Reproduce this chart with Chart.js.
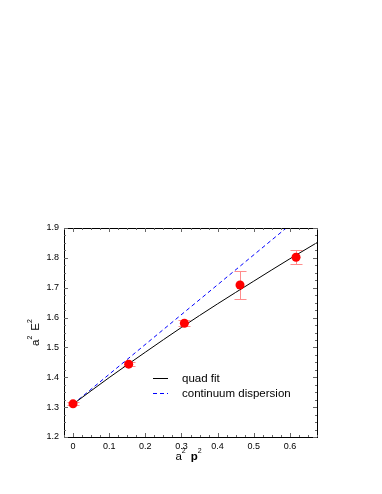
<!DOCTYPE html>
<html>
<head>
<meta charset="utf-8">
<script src="https://cdn.jsdelivr.net/npm/chart.js@4"></script>
<style>
  body { margin: 0; background: #fff; }
  #myChart { display: block; }
</style>
</head>
<body>
<canvas id="myChart" width="382" height="494"></canvas>
<script>
// measured points: a^2 p^2 vs a^2 E^2
const momenta = [0, 0.154, 0.308, 0.462, 0.617];
const energies = [1.311, 1.444, 1.581, 1.709, 1.802];
const errors = [0.005, 0.006, 0.010, 0.046, 0.024];

// quad fit curve
const fitX = [0, 0.1, 0.2, 0.3, 0.4, 0.5, 0.6, 0.675];
const fitY = [1.310, 1.399, 1.484, 1.567, 1.646, 1.722, 1.797, 1.851];

// continuum dispersion line
const contX = [0, 0.59];
const contY = [1.31, 1.90];

const xTicks = [0, 0.1, 0.2, 0.3, 0.4, 0.5, 0.6];
const yTicks = [1.2, 1.3, 1.4, 1.5, 1.6, 1.7, 1.8, 1.9];

const FONT = "'Liberation Sans', Arial, Helvetica, sans-serif";
const FIT_COLOR = '#000000';
const CONT_COLOR = '#0000ff';

function pairs(xs, ys) {
  return xs.map((x, i) => ({ x: x, y: ys[i] }));
}

// error bars under the points
const errorBars = {
  id: 'errorBars',
  beforeDatasetsDraw(chart) {
    const ctx = chart.ctx;
    const xs = chart.scales.x, ys = chart.scales.y;
    ctx.save();
    ctx.strokeStyle = '#ff8c8c';
    ctx.lineWidth = 1;
    for (let i = 0; i < momenta.length; i++) {
      const px = Math.round(xs.getPixelForValue(momenta[i])) + 0.5;
      const top = Math.round(ys.getPixelForValue(energies[i] + errors[i])) + 0.5;
      const bot = Math.round(ys.getPixelForValue(energies[i] - errors[i])) + 0.5;
      ctx.beginPath();
      ctx.moveTo(px, top); ctx.lineTo(px, bot);
      ctx.moveTo(px - 6, top); ctx.lineTo(px + 6, top);
      ctx.moveTo(px - 6, bot); ctx.lineTo(px + 6, bot);
      ctx.stroke();
    }
    ctx.restore();
  }
};

// box, inward ticks, axis titles and legend
const frame = {
  id: 'frame',
  afterDraw(chart) {
    const ctx = chart.ctx;
    const a = chart.chartArea;
    const xs = chart.scales.x, ys = chart.scales.y;
    ctx.save();
    ctx.strokeStyle = '#000';
    ctx.lineWidth = 1;
    ctx.strokeRect(Math.round(a.left) + 0.5, Math.round(a.top) + 0.5,
      Math.round(a.right - a.left), Math.round(a.bottom - a.top));

    ctx.strokeStyle = '#666';
    ctx.beginPath();
    for (let k = -1; k <= 27; k++) {
      const v = k * 0.025;
      if (v < xs.min - 1e-9 || v > xs.max + 1e-9) continue;
      const px = Math.round(xs.getPixelForValue(v)) + 0.5;
      const len = (k % 4 === 0) ? 4 : 2;
      ctx.moveTo(px, a.bottom); ctx.lineTo(px, a.bottom - len);
      ctx.moveTo(px, a.top); ctx.lineTo(px, a.top + len);
    }
    for (let k = 0; k <= 28; k++) {
      const v = 1.2 + k * 0.025;
      const py = Math.round(ys.getPixelForValue(v)) + 0.5;
      const len = (k % 4 === 0) ? 4 : 2;
      ctx.moveTo(a.left, py); ctx.lineTo(a.left + len, py);
      ctx.moveTo(a.right, py); ctx.lineTo(a.right - len, py);
    }
    ctx.stroke();

    // x title: a^2 p^2
    ctx.fillStyle = '#000';
    ctx.textBaseline = 'alphabetic';
    const cx = (a.left + a.right) / 2 - 2;
    const by = a.bottom + 23;
    const big = '11.5px ' + FONT, bold = 'bold 11.5px ' + FONT, sup = '7px ' + FONT;
    ctx.font = big; const wa = ctx.measureText('a').width;
    ctx.font = sup; const w2 = ctx.measureText('2').width;
    ctx.font = bold; const wp = ctx.measureText('p').width;
    const gap = 5;
    let x0 = cx - (wa + w2 + gap + wp + w2) / 2;
    ctx.font = big; ctx.fillText('a', x0, by); x0 += wa;
    ctx.font = sup; ctx.fillText('2', x0, by - 7); x0 += w2 + gap;
    ctx.font = bold; ctx.fillText('p', x0, by); x0 += wp;
    ctx.font = sup; ctx.fillText('2', x0, by - 7);

    // y title: a^2 E^2, rotated
    ctx.save();
    ctx.translate(39, (a.top + a.bottom) / 2);
    ctx.rotate(-Math.PI / 2);
    ctx.font = big; const wE = ctx.measureText('E').width;
    let y0 = -(wa + w2 + gap + wE + w2) / 2;
    ctx.font = big; ctx.fillText('a', y0, 0); y0 += wa;
    ctx.font = sup; ctx.fillText('2', y0, -7); y0 += w2 + gap;
    ctx.font = big; ctx.fillText('E', y0, 0); y0 += wE;
    ctx.font = sup; ctx.fillText('2', y0, -7);
    ctx.restore();

    // legend
    const lx = a.left + 89, ly = a.top + 150;
    const entries = [
      { label: 'quad fit', color: FIT_COLOR, dash: [] },
      { label: 'continuum dispersion', color: CONT_COLOR, dash: [4, 3] }
    ];
    ctx.font = '11.5px ' + FONT;
    ctx.textBaseline = 'middle';
    entries.forEach((e, i) => {
      const y = Math.round(ly + i * 15) + 0.5;
      ctx.strokeStyle = e.color;
      ctx.lineWidth = 1;
      ctx.setLineDash(e.dash);
      ctx.beginPath();
      ctx.moveTo(lx, y); ctx.lineTo(lx + 15, y);
      ctx.stroke();
      ctx.setLineDash([]);
      ctx.fillStyle = '#000';
      ctx.fillText(e.label, lx + 29, y);
    });
    ctx.restore();
  }
};

new Chart(document.getElementById('myChart'), {
  type: 'scatter',
  data: {
    datasets: [
      {
        label: 'data',
        data: pairs(momenta, energies),
        backgroundColor: '#ff0000',
        borderColor: '#ff0000',
        pointRadius: 4.5,
        borderWidth: 0,
        order: 0
      },
      {
        label: 'quad fit',
        type: 'line',
        data: pairs(fitX, fitY),
        borderColor: FIT_COLOR,
        borderWidth: 1,
        pointRadius: 0,
        tension: 0.4,
        cubicInterpolationMode: 'monotone',
        order: 1
      },
      {
        label: 'continuum dispersion',
        type: 'line',
        data: pairs(contX, contY),
        borderColor: CONT_COLOR,
        borderWidth: 1,
        borderDash: [4, 3],
        pointRadius: 0,
        order: 2
      }
    ]
  },
  options: {
    responsive: false,
    animation: false,
    layout: { padding: { top: 228, right: 65, left: 0, bottom: 0 } },
    plugins: {
      legend: { display: false },
      tooltip: { enabled: false }
    },
    scales: {
      x: {
        type: 'linear',
        min: -0.025,
        max: 0.675,
        grid: { display: false, drawTicks: false },
        border: { display: false },
        afterBuildTicks: s => { s.ticks = xTicks.map(v => ({ value: v })); },
        afterFit: s => { s.height = 57; },
        ticks: {
          padding: 4,
          color: '#000',
          font: { family: FONT, size: 9 },
          maxRotation: 0,
          callback: v => String(Math.round(v * 10) / 10)
        }
      },
      y: {
        type: 'linear',
        min: 1.2,
        max: 1.9,
        grid: { display: false, drawTicks: false },
        border: { display: false },
        afterBuildTicks: s => { s.ticks = yTicks.map(v => ({ value: v })); },
        afterFit: s => { s.width = 64; },
        ticks: {
          padding: 5,
          color: '#000',
          font: { family: FONT, size: 9 },
          callback: v => (Math.round(v * 10) / 10).toFixed(1)
        }
      }
    }
  },
  plugins: [errorBars, frame]
});
</script>
</body>
</html>
